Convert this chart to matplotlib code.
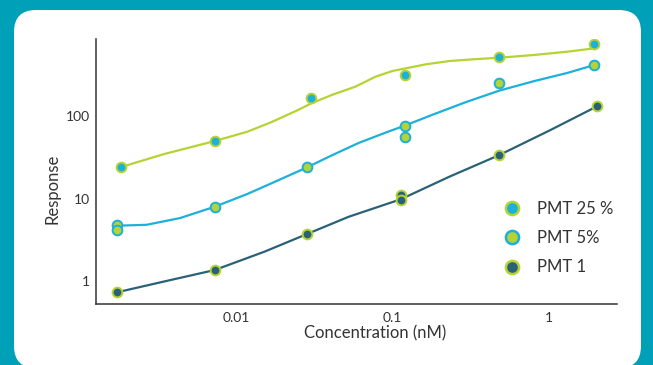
import matplotlib
matplotlib.use('Agg')
import matplotlib.pyplot as plt
from matplotlib.patches import FancyBboxPatch
from matplotlib.lines import Line2D

# measured points (concentration nM, response)
x25 = [0.00182, 0.00732, 0.0298, 0.120, 0.480, 1.94]
y25 = [24.0, 50.2, 167, 322, 524, 760]
x5 = [0.00171, 0.00171, 0.00732, 0.0281, 0.120, 0.120, 0.480, 1.94]
y5 = [4.77, 4.15, 7.97, 24.0, 77.1, 55.7, 257, 418]
x1 = [0.00171, 0.00732, 0.0281, 0.113, 0.113, 0.480, 2.03]
y1 = [0.725, 1.35, 3.74, 11.1, 9.61, 33.6, 134]

# fitted curves
fit25_x = [0.00180, 0.00340, 0.00727, 0.01176, 0.01665, 0.02474, 0.03019, 0.04065,
           0.05756, 0.0775, 0.0993, 0.1211, 0.1631, 0.2306, 0.3265, 0.4808,
           0.7968, 1.309, 1.946]
fit25_y = [24.0, 34.6, 50.2, 65.2, 84.8, 119.6, 144.3, 182.1,
           229.8, 304.1, 356.7, 384.7, 430.4, 472.1, 495.1, 517.8,
           558.5, 612.7, 673.8]
fit5_x = [0.00172, 0.00266, 0.00436, 0.00727, 0.01176, 0.01837, 0.02801, 0.04065,
          0.06042, 0.08992, 0.1199, 0.1800, 0.2957, 0.4808, 0.7968, 1.309, 1.926]
fit5_y = [4.68, 4.80, 5.80, 7.97, 11.4, 16.6, 23.8, 33.5,
          47.5, 63.5, 77.5, 105, 150, 206, 268, 338, 420]
fit1_x = [0.00172, 0.00340, 0.00727, 0.01509, 0.02801, 0.05208, 0.1123, 0.2306,
          0.4808, 1.021, 2.046]
fit1_y = [0.7245, 0.975, 1.353, 2.259, 3.679, 6.0, 9.8, 18.5,
          33.91, 68.32, 133.8]

xticks = [0.01, 0.1, 1]
xtick_labels = ['0.01', '0.1', '1']
yticks = [1, 10, 100]
ytick_labels = ['1', '10', '100']
labels = ['PMT 25 %', 'PMT 5%', 'PMT 1']

GREEN = '#b5d334'
BLUE = '#1cb0da'
DARK = '#2b6176'
TEAL = '#00a0b8'
TXT = '#333333'

plt.rcParams['font.family'] = ['Lato', 'DejaVu Sans']

fig = plt.figure(figsize=(6.53, 3.65), dpi=100, facecolor=TEAL)
panel = FancyBboxPatch((0.14, -0.03), 6.27, 3.58,
                       boxstyle='round,pad=0,rounding_size=0.22',
                       transform=fig.dpi_scale_trans, facecolor='white',
                       edgecolor='none', zorder=-1)
fig.add_artist(panel)

ax = fig.add_axes([0.1467, 0.1671, 0.7977, 0.7252])
ax.set_facecolor('none')
ax.set_xscale('log')
ax.set_yscale('log')

lw = 1.6
ax.plot(fit25_x, fit25_y, color=GREEN, lw=lw, solid_joinstyle='round', zorder=2)
ax.plot(fit5_x, fit5_y, color=BLUE, lw=lw, solid_joinstyle='round', zorder=2)
ax.plot(fit1_x, fit1_y, color=DARK, lw=lw, solid_joinstyle='round', zorder=2)

ms = 7.0
mew = 1.4
ax.plot(x25, y25, 'o', ms=ms, mfc=BLUE, mec=GREEN, mew=mew, zorder=3)
ax.plot(x5, y5, 'o', ms=ms, mfc=GREEN, mec=BLUE, mew=mew, zorder=3)
ax.plot(x1, y1, 'o', ms=ms, mfc=DARK, mec=GREEN, mew=mew, zorder=3)

ax.set_xlim(0.00126, 2.707)
ax.set_ylim(0.522, 867)
ax.set_xticks(xticks)
ax.set_xticklabels(xtick_labels)
ax.set_yticks(yticks)
ax.set_yticklabels(ytick_labels)
ax.minorticks_off()
ax.tick_params(axis='x', length=0, pad=5.5, labelsize=10, labelcolor=TXT)
ax.tick_params(axis='y', length=0, pad=4.5, labelsize=10, labelcolor=TXT)

for s in ['top', 'right']:
    ax.spines[s].set_visible(False)
for s in ['left', 'bottom']:
    ax.spines[s].set_color('#333333')
    ax.spines[s].set_linewidth(1.1)

ax.set_xlabel('Concentration (nM)', fontsize=12, color=TXT)
ax.xaxis.set_label_coords(0.536, -0.079)
ax.set_ylabel('Response', fontsize=12, color=TXT)
ax.yaxis.set_label_coords(-0.0668, 0.436)

handles = [
    Line2D([], [], ls='none', marker='o', ms=9.5, mfc=BLUE, mec=GREEN, mew=1.8),
    Line2D([], [], ls='none', marker='o', ms=9.5, mfc=GREEN, mec=BLUE, mew=1.8),
    Line2D([], [], ls='none', marker='o', ms=9.5, mfc=DARK, mec=GREEN, mew=1.8),
]
leg = ax.legend(handles, labels, loc='upper left', bbox_to_anchor=(0.767, 0.4156),
                frameon=False, fontsize=12, labelspacing=0.8, borderaxespad=0,
                handletextpad=0.9, handlelength=1.2)
for t in leg.get_texts():
    t.set_color(TXT)

fig.savefig('out.png', dpi=100, facecolor=TEAL)
